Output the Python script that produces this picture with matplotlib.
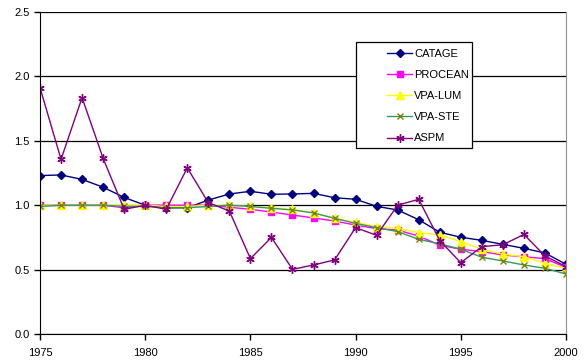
import matplotlib
matplotlib.use('Agg')
import matplotlib.pyplot as plt
from matplotlib.patches import Rectangle

plt.rcParams['font.family'] = ['Liberation Sans', 'DejaVu Sans']

years = list(range(1975, 2001))

catage = [1.23, 1.235, 1.20, 1.14, 1.06, 1.00, 0.98, 0.98, 1.04, 1.087, 1.108, 1.085,
          1.087, 1.092, 1.058, 1.046, 0.991, 0.963, 0.887, 0.79, 0.751, 0.727, 0.696,
          0.665, 0.629, 0.541]
procean = [1.00, 1.00, 1.00, 1.00, 0.98, 1.00, 1.00, 1.00, 1.00, 0.984, 0.968, 0.947,
           0.924, 0.901, 0.877, 0.846, 0.818, 0.807, 0.76, 0.69, 0.658, 0.64, 0.613,
           0.60, 0.585, 0.517]
vpa_lum = [1.00, 1.00, 1.00, 1.00, 1.00, 1.00, 0.99, 0.99, 1.00, 1.00, 0.99, 0.98,
           0.968, 0.94, 0.90, 0.866, 0.833, 0.82, 0.787, 0.77, 0.717, 0.658, 0.62,
           0.60, 0.549, 0.51]
vpa_ste = [0.99, 1.00, 1.00, 1.00, 0.99, 0.99, 0.98, 0.98, 0.99, 1.00, 0.99, 0.976,
           0.963, 0.94, 0.898, 0.859, 0.826, 0.795, 0.735, 0.70, 0.658, 0.596, 0.567,
           0.536, 0.51, 0.466]
aspm = [1.913, 1.356, 1.835, 1.364, 0.968, 1.00, 0.968, 1.29, 1.02, 0.955, 0.585, 0.75,
        0.502, 0.536, 0.575, 0.826, 0.766, 1.00, 1.046, 0.725, 0.554, 0.678, 0.693,
        0.773, 0.606, 0.523]

fig = plt.figure(figsize=(5.86, 3.63), dpi=100)
ax = fig.add_axes([40 / 586, 1 - 334 / 363, 526 / 586, 322 / 363])

ax.plot(years, catage, color='#000080', marker='D', ms=4.5, lw=1, label='CATAGE')
ax.plot(years, procean, color='#FF00FF', marker='s', ms=4.5, lw=1, label='PROCEAN')
ax.plot(years, vpa_lum, color='#FFFF00', marker='^', ms=6, lw=1, label='VPA-LUM')
ax.plot(years, vpa_ste, color='#339966', marker='x', ms=5, mec='#808000', mew=1,
        lw=1, label='VPA-STE')
ax.plot(years, aspm, color='#800080', marker=(6, 2, 0), ms=6, mew=1, lw=1, label='ASPM')

ax.set_xlim(1975, 2000)
ax.set_ylim(0, 2.5)
ax.set_xticks(range(1975, 2001, 5))
ax.set_yticks([0, 0.5, 1.0, 1.5, 2.0, 2.5])
ax.set_yticklabels(['0.0', '0.5', '1.0', '1.5', '2.0', '2.5'])
ax.yaxis.grid(True, color='black', lw=0.9)
ax.set_axisbelow(True)
ax.tick_params(labelsize=8, direction='out', length=4, width=1, colors='black')
ax.tick_params(axis='x', pad=6)
ax.spines['top'].set_visible(False)
ax.spines['right'].set_color('#909090')
ax.spines['left'].set_color('black')
ax.spines['bottom'].set_color('black')

# legend box drawn separately (Excel-style wide left margin)
ax.add_patch(Rectangle((0.601, 0.578), 0.22, 0.329, transform=ax.transAxes,
                       facecolor='white', edgecolor='black', lw=0.9, zorder=5))
leg = ax.legend(loc='upper left', bbox_to_anchor=((387 - 40) / 526, (334 - 49) / 322),
                fontsize=8, frameon=False, handlelength=2.25, labelspacing=1.0,
                borderpad=0, handletextpad=0.2, borderaxespad=0)
leg.set_zorder(6)

fig.savefig('out.png', dpi=100)
